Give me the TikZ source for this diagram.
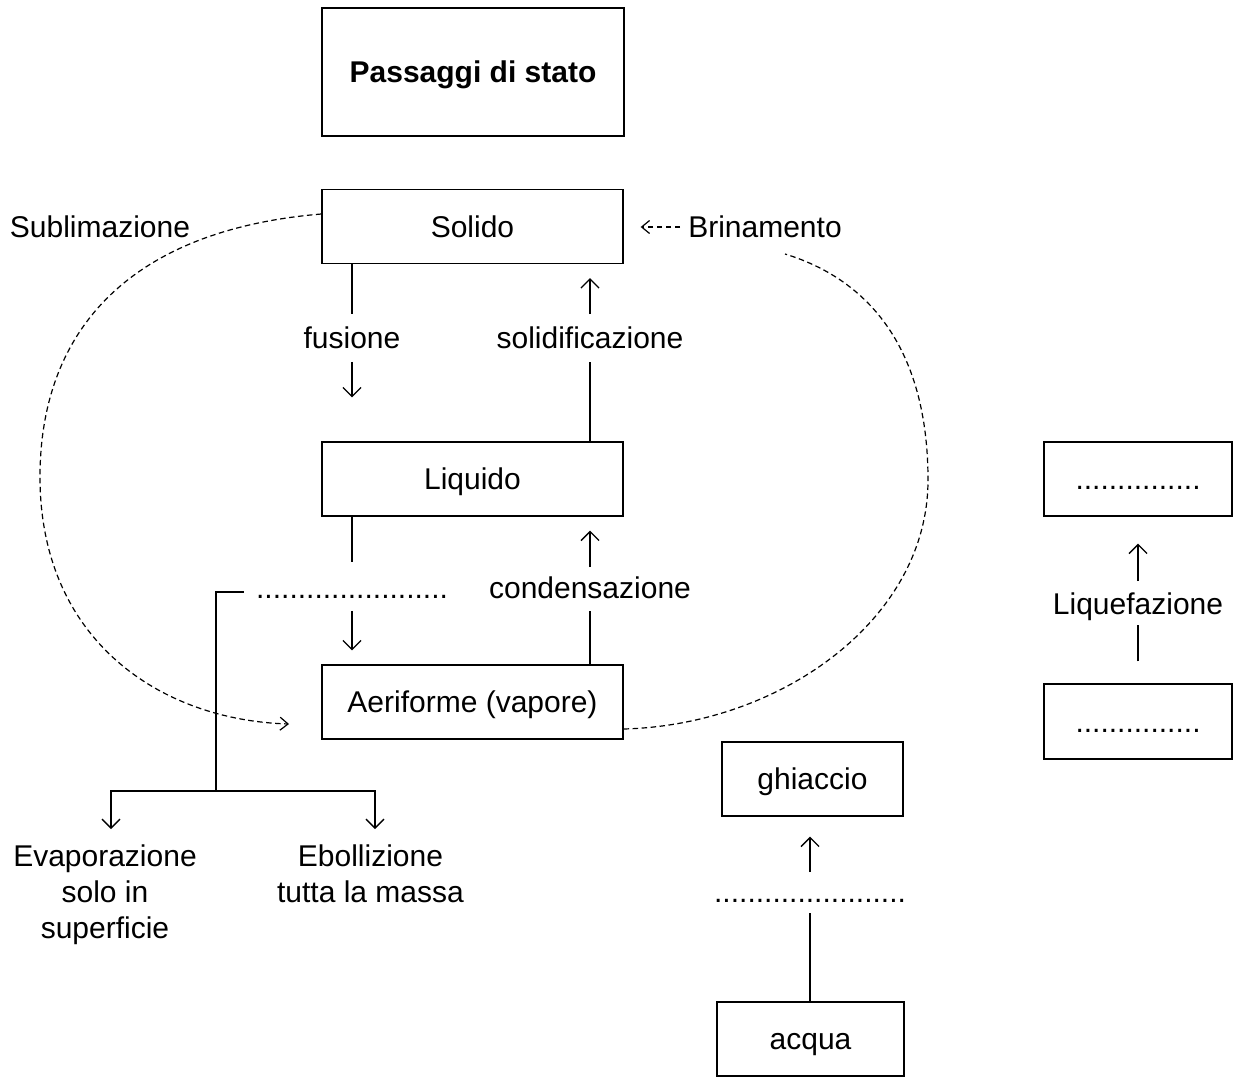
\documentclass[tikz,border=0pt]{standalone}
\usepackage{fontspec}
\setmainfont{Liberation Sans}
\usetikzlibrary{arrows.meta,calc}
\begin{document}
\begin{tikzpicture}[x=1pt,y=-1pt,
  every node/.style={font=\fontsize{30}{36}\selectfont},
  box/.style={draw, line width=1.3pt, inner sep=0pt, text height=21.5pt, text depth=0pt, minimum width=301pt, minimum height=74pt},
  lab/.style={inner sep=0pt, text height=21.5pt, text depth=0pt},
  ln/.style={line width=1.3pt},
  arr/.style={line width=1.3pt, -{Straight Barb[length=9pt,width=18pt]}},
  dsh/.style={line width=1.2pt, dash pattern=on 5.5pt off 3.5pt},
  darr/.style={dsh, -{Straight Barb[length=8pt,width=13pt]}}]
\useasboundingbox (0,0) rectangle (1241,1078);

% boxes
\node[box, minimum width=302pt, minimum height=128pt, font=\bfseries\fontsize{30}{36}\selectfont] (title) at (473,72) {Passaggi di stato};
\node[box] (solido) at (472.5,226.5) {Solido};
\node[box] (liquido) at (472.5,479) {Liquido};
\node[box] (aeri) at (472.5,702) {Aeriforme (vapore)};
\node[box, minimum width=181pt] (ghiaccio) at (812.5,779) {ghiaccio};
\node[box, minimum width=187pt] (acqua) at (810.5,1039) {acqua};
\node[box, minimum width=188pt] (rtop) at (1138,479) {...............};
\node[box, minimum width=188pt, minimum height=75pt] (rbot) at (1138,721.5) {...............};

% labels
\node[lab] (fus) at (352,338) {fusione};
\node[lab] (sol) at (590,338) {solidificazione};
\node[lab] (dots1) at (352,588) {.......................};
\node[lab] (cond) at (590,588) {condensazione};
\node[lab] (liq) at (1138,604) {Liquefazione};
\node[lab] (dots2) at (810,892) {.......................};
\node[lab] (subl) at (100,227) {Sublimazione};
\node[lab] (brin) at (765,227) {Brinamento};
\node[anchor=north, inner sep=0pt, align=center] (evap) at (105,845) {Evaporazione\\solo in\\superficie};
\node[anchor=north, inner sep=0pt, align=center] (ebol) at (370.5,845) {Ebollizione\\tutta la massa};

% solid connectors
\draw[ln, shorten >=13pt] (solido.south -| fus) -- (fus.north);
\draw[arr, shorten <=13pt, shorten >=44pt] (fus.south) -- (liquido.north -| fus);
\draw[ln, shorten >=13pt] (liquido.north -| sol) -- (sol.south);
\draw[arr, shorten <=13pt, shorten >=14pt] (sol.north) -- (solido.south -| sol);
\draw[ln, shorten >=15pt] (liquido.south -| dots1) -- (dots1.north);
\draw[arr, shorten <=12pt, shorten >=14pt] (dots1.south) -- (aeri.north -| dots1);
\draw[ln, shorten >=12pt] (aeri.north -| cond) -- (cond.south);
\draw[arr, shorten <=10pt, shorten >=14pt] (cond.north) -- (liquido.south -| cond);

% bracket to evaporazione / ebollizione
\coordinate (bs) at ($(dots1.west)+(-12,4)$);
\coordinate (bj) at (216,791);
\coordinate (ea) at (111,829);
\coordinate (eb) at (375,829);
\draw[ln] (bs) -| (bj);
\draw[arr] (bj) -| (ea);
\draw[arr] (bj) -| (eb);

% liquefazione
\draw[ln, shorten <=22pt, shorten >=10pt] (rbot.north) -- (liq.south);
\draw[arr, shorten <=12pt, shorten >=27pt] (liq.north) -- (rtop.south);

% acqua -> ghiaccio
\draw[ln, shorten >=10pt] (acqua.north -| dots2) -- (dots2.south);
\draw[arr, shorten <=9pt, shorten >=20pt] (dots2.north) -- (ghiaccio.south -| dots2);

% dashed curves
\coordinate (subEnd) at (289,724);
\draw[darr] ([yshift=12.5pt]solido.west) .. controls (130,230) and (40,330) .. (40,477) .. controls (40,640) and (160,720) .. (subEnd);
\coordinate (brinEnd) at (785,254);
\draw[dsh] ([yshift=-27pt]aeri.east) .. controls (780,725) and (928,620) .. (928,480) .. controls (928,350) and (870,280) .. (brinEnd);
\draw[darr, shorten <=8pt, shorten >=17pt] (brin.west) -- (solido.east |- brin.west);
\end{tikzpicture}
\end{document}
